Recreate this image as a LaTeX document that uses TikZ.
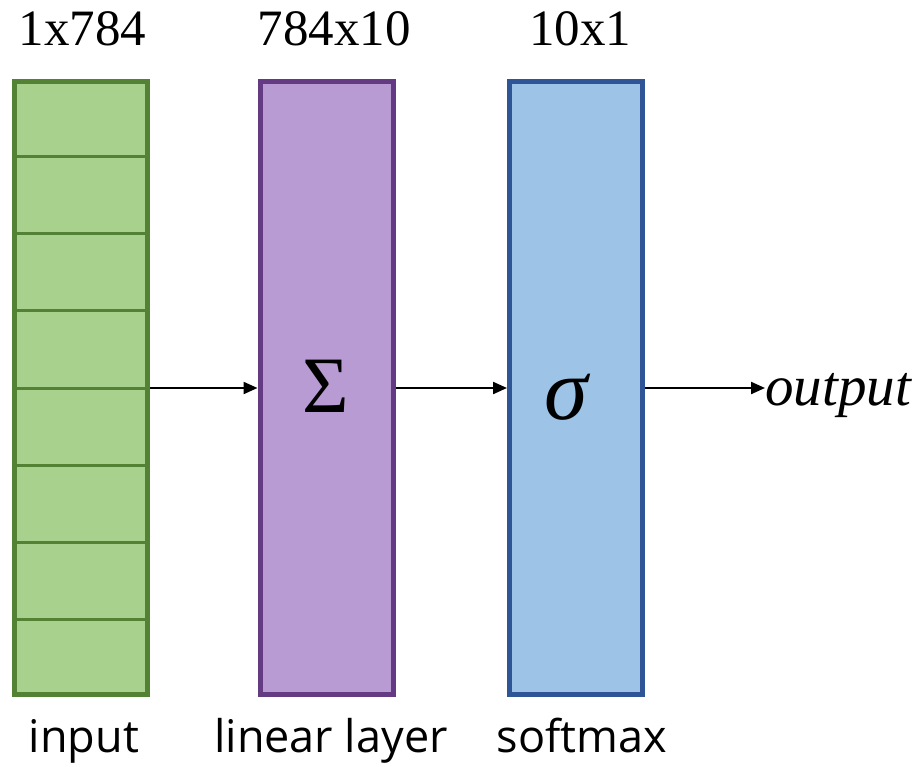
\documentclass[tikz,border=0pt]{standalone}
\usepackage{fontspec}
\setmainfont{Liberation Serif}
\newfontfamily\labelfont{Open Sans}
\usetikzlibrary{arrows.meta,calc}
\definecolor{gfill}{RGB}{169,209,142}
\definecolor{gline}{RGB}{84,130,53}
\definecolor{pfill}{RGB}{185,155,211}
\definecolor{pline}{RGB}{100,58,130}
\definecolor{bfill}{RGB}{157,195,230}
\definecolor{bline}{RGB}{47,85,151}
\begin{document}
\begin{tikzpicture}[x=1pt,y=-1pt,
  layer/.style={rectangle,line width=5pt,minimum width=133pt,minimum height=613pt,inner sep=0pt},
  toplabel/.style={anchor=base,inner sep=0pt,font=\fontsize{51}{56}\selectfont},
  botlabel/.style={anchor=base,inner sep=0pt,font=\labelfont\fontsize{45}{50}\selectfont},
  conn/.style={line width=2.2pt,-{Triangle[length=14pt,width=12pt]}}]
\useasboundingbox (0,0) rectangle (918,766);
\node[layer,draw=gline,fill=gfill] (in) at (81,388) {};
\foreach \k in {1,...,7}{
  \draw[gline,line width=3pt] ($(in.north west)+(0,77.25*\k)$) -- ($(in.north east)+(0,77.25*\k)$);
}
\node[layer,draw=pline,fill=pfill] (lin) at (326.5,388) {};
\node[layer,draw=bline,fill=bfill] (soft) at (576,388) {};
\node[inner sep=0pt] (sum) at (326,386) {\fontsize{80}{84}\selectfont Σ};
\node[inner sep=0pt] (sig) at (566,397) {\fontsize{88}{92}\selectfont\itshape σ};
\node[anchor=base west,inner sep=0pt] (out) at (765,405) {\fontsize{57}{60}\selectfont\itshape output};
\draw[conn] (in.east) -- (lin.west);
\draw[conn] (lin.east) -- (soft.west);
\draw[conn] (soft.east) -- (soft.east -| out.west);
\node[toplabel] (t1) at (82.5,45) {1x784};
\node[toplabel] (t2) at (334,45) {784x10};
\node[toplabel] (t3) at (580,45) {10x1};
\node[botlabel] (b1) at (84,752) {input};
\node[botlabel] (b2) at (331,752) {linear layer};
\node[botlabel] (b3) at (582,752) {softmax};
\end{tikzpicture}
\end{document}
